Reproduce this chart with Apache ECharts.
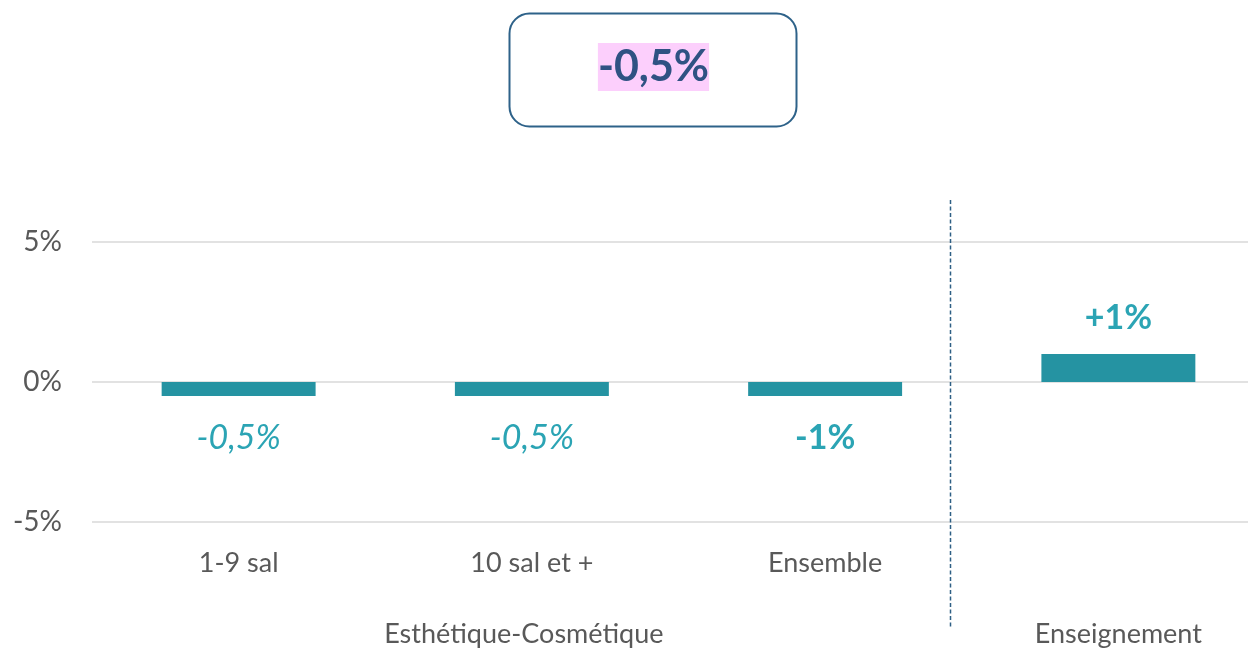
<!DOCTYPE html>
<html><head><meta charset="utf-8">
<script src="https://cdn.jsdelivr.net/npm/echarts@6/dist/echarts.min.js"></script>
<style>html,body{margin:0;padding:0;background:#fff;overflow:hidden;width:1248px;height:651px}#c{width:1265px;height:651px}</style>
</head><body><div id="c"></div>
<script>
const categories = ["1-9 sal", "10 sal et +", "Ensemble", "Enseignement"];
const values = [-0.5, -0.5, -0.5, 1];
const valueLabels = ["-0,5%", "-0,5%", "-1%", "+1%"];
const groupLabels = ["Esthétique-Cosmétique", "Enseignement"];
const groupOf = [0, 0, 0, 1];
const yTicks = [-5, 0, 5];
const headline = "-0,5%";

const FONT = "Lato";
const chart = echarts.init(document.getElementById('c'), null, {renderer: 'canvas'});

// second axis: group label at the middle category of each group
const groupAxisData = categories.map(() => "");
groupLabels.forEach((g, gi) => {
  const idx = groupOf.map((v, i) => v === gi ? i : -1).filter(i => i >= 0);
  const mid = idx[Math.floor((idx.length - 1) / 2)];
  groupAxisData[mid] = idx.length > 1
    ? {value: g, textStyle: {padding: [0, 16, 0, 0]}}
    : g;
});

const barData = values.map((v, i) => {
  const italic = valueLabels[i].indexOf(",") >= 0;
  return {
    value: v,
    label: {
      show: true,
      position: v < 0 ? 'bottom' : 'top',
      distance: v < 0 ? 25 : 19,
      formatter: valueLabels[i],
      fontFamily: FONT,
      fontSize: 34,
      fontStyle: italic ? 'italic' : 'normal',
      fontWeight: italic ? 'normal' : 'bold',
      color: '#2ba4b4'
    }
  };
});

chart.setOption({
  animation: false,
  textStyle: {fontFamily: FONT},
  grid: {left: 92, right: 0, top: 242, bottom: 129, containLabel: false},
  xAxis: [{
    type: 'category', data: categories,
    axisLine: {show: false}, axisTick: {show: false},
    axisLabel: {
      margin: 28, fontSize: 27, color: '#595959', fontFamily: FONT,
      formatter: (v, i) => groupOf.filter(g => g === groupOf[i]).length === 1 ? '' : v
    }
  }, {
    type: 'category', data: groupAxisData, position: 'bottom',
    axisLine: {show: false}, axisTick: {show: false}, splitLine: {show: false},
    axisLabel: {margin: 99, fontSize: 27, color: '#595959', fontFamily: FONT, interval: 0}
  }],
  yAxis: {
    type: 'value', min: yTicks[0], max: yTicks[yTicks.length - 1], interval: yTicks[1] - yTicks[0],
    axisLine: {show: false}, axisTick: {show: false},
    splitLine: {lineStyle: {color: '#d9d9d9', width: 1.5}},
    axisLabel: {formatter: v => v + '%', fontSize: 28, color: '#595959', margin: 30, fontFamily: FONT}
  },
  series: [{
    type: 'bar', data: barData, barWidth: '52.5%', xAxisIndex: 0,
    itemStyle: {color: '#2593a2'}
  }]
});

// separator between groups, placed via the axis scales
const sepIdx = groupOf.findIndex((g, i) => i > 0 && g !== groupOf[i - 1]);
const xa = chart.convertToPixel({xAxisIndex: 0}, sepIdx - 1);
const xb = chart.convertToPixel({xAxisIndex: 0}, sepIdx);
const sx = Math.round(xa + (xb - xa) * 0.426) + 0.5;
const yTop = chart.convertToPixel({yAxisIndex: 0}, 6.5);
const yBot = chart.convertToPixel({yAxisIndex: 0}, -8.8);

chart.setOption({
  graphic: [
    {type: 'line', shape: {x1: sx, y1: yTop, x2: sx, y2: yBot},
     style: {stroke: '#2e5f85', lineWidth: 1.5, lineDash: [4, 2.5]}},
    {type: 'rect', shape: {x: 509.5, y: 13.5, width: 287, height: 113, r: 20},
     style: {fill: '#fff', stroke: '#2e6289', lineWidth: 2}},
    {type: 'text', x: 653.5, y: 67,
     style: {text: headline, fontFamily: FONT, fontSize: 43, fontWeight: 'bold', fill: '#2f5283',
       align: 'center', verticalAlign: 'middle', backgroundColor: '#fccffc', padding: [4, 0, 1, 0]}}
  ]
});
</script></body></html>
